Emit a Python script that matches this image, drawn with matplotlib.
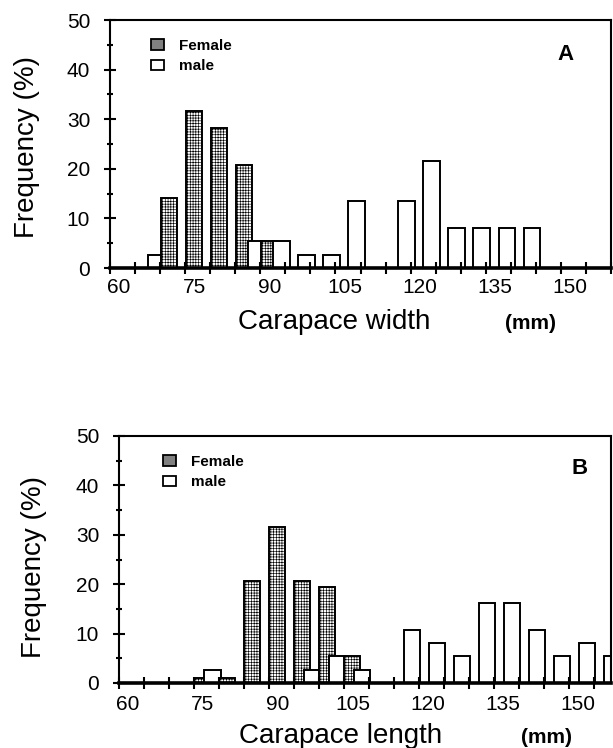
import matplotlib
matplotlib.use("Agg")
import matplotlib.pyplot as plt
import matplotlib.transforms as mtransforms
from matplotlib.patches import Patch
from matplotlib.ticker import MultipleLocator, FixedLocator

plt.rcParams['font.family'] = ['Liberation Sans', 'DejaVu Sans']
plt.rcParams['hatch.linewidth'] = 0.45

# --- data (frequency in %) ---
# A: carapace width
bins_a = [70, 75, 80, 85, 90, 95, 100, 105, 110, 115, 120, 125, 130, 135, 140, 145]
female_a = [14.2, 31.6, 28.3, 20.8, 5.4, 0, 0, 0, 0, 0, 0, 0, 0, 0, 0, 0]
male_a = [2.7, 0, 0, 0, 5.4, 5.4, 2.7, 2.7, 13.5, 0, 13.5, 21.6, 8.1, 8.1, 8.1, 8.1]

# B: carapace length
bins_b = [75, 80, 85, 90, 95, 100, 105, 110, 115, 120, 125, 130, 135, 140, 145, 150, 155, 160]
female_b = [1.0, 1.0, 20.7, 31.5, 20.7, 19.5, 5.4, 0, 0, 0, 0, 0, 0, 0, 0, 0, 0, 0]
male_b = [0, 2.7, 0, 0, 0, 2.7, 5.4, 2.7, 0, 10.8, 8.1, 5.4, 16.2, 16.2, 10.8, 5.4, 8.1, 5.4]

W, H = 613, 748
fig = plt.figure(figsize=(W / 100, H / 100), dpi=100)


def add_px_axes(l, t, r, b):
    return fig.add_axes([l / W, 1 - b / H, (r - l) / W, (b - t) / H])


def draw_panel(ax, bins, female, male, off_m, off_f, xmax, letter, letter_xy,
               leg_xy, xpad):
    bw = 3.3
    xm = [b + off_m for b in bins]
    xf = [b + off_f for b in bins]
    mbars = ax.bar(xm, male, bw, color='white', edgecolor='black', linewidth=1.4)
    fbars = ax.bar(xf, female, bw, color='white', edgecolor='black', linewidth=1.4,
                   hatch='++++++')
    # each class: male first, then female, next class over it
    for i, (m, f) in enumerate(zip(mbars, fbars)):
        m.set_zorder(2 + 0.02 * i)
        f.set_zorder(2.01 + 0.02 * i)

    ax.set_xlim(60, xmax)
    ax.set_ylim(0, 50)
    ax.set_axisbelow(False)
    ax.xaxis.set_major_locator(FixedLocator([60, 75, 90, 105, 120, 135, 150]))
    ax.xaxis.set_minor_locator(MultipleLocator(5))
    ax.yaxis.set_major_locator(MultipleLocator(10))
    ax.yaxis.set_minor_locator(MultipleLocator(5))
    ax.tick_params(which='both', direction='inout', width=1.5, top=False, right=False,
                   labelsize=15)
    ax.tick_params(axis='y', which='major', length=8.5, pad=10)
    ax.tick_params(axis='y', which='minor', length=4)
    ax.tick_params(axis='x', which='both', length=8, pad=xpad)
    for s in ['left', 'top', 'right']:
        ax.spines[s].set_linewidth(1.5)
    ax.spines['bottom'].set_linewidth(2.6)
    for s in ax.spines.values():
        s.set_zorder(3)

    shift = mtransforms.ScaledTranslation(9 / 100, 0, fig.dpi_scale_trans)
    for lab in ax.get_xticklabels():
        lab.set_transform(lab.get_transform() + shift)

    ax.text(letter_xy[0], letter_xy[1], letter, transform=ax.transAxes,
            fontsize=16, fontweight='bold', ha='center', va='center')

    handles = [Patch(facecolor='#808080', edgecolor='black', linewidth=1.3, label='Female'),
               Patch(facecolor='white', edgecolor='black', linewidth=1.3, label='male')]
    ax.legend(handles=handles, loc='upper left', bbox_to_anchor=leg_xy, frameon=False,
              borderpad=0, borderaxespad=0, handlelength=0.85, handleheight=0.7,
              handletextpad=1.0, labelspacing=0.45,
              prop={'weight': 'bold', 'size': 11})


axA = add_px_axes(110, 20, 611, 268)
axB = add_px_axes(119, 436, 611, 683)

draw_panel(axA, bins_a, female_a, male_a, -0.8, 1.75, 160, 'A', (0.91, 0.861),
           (0.081, 0.925), 3)
draw_panel(axB, bins_b, female_b, male_b, -1.3, 1.65, 158.5, 'B', (0.936, 0.868),
           (0.089, 0.925), 5)

# axis titles
fig.text(27.5 / W, 1 - 147.5 / H, 'Frequency (%)', rotation=90, fontsize=20,
         ha='center', va='center')
fig.text(34 / W, 1 - 567.5 / H, 'Frequency (%)', rotation=90, fontsize=20,
         ha='center', va='center')
fig.text(334 / W, 1 - 329 / H, 'Carapace width', fontsize=20, ha='center', va='baseline')
fig.text(530 / W, 1 - 329 / H, '(mm)', fontsize=15, fontweight='bold',
         ha='center', va='baseline')
fig.text(341 / W, 1 - 743 / H, 'Carapace length', fontsize=20, ha='center', va='baseline')
fig.text(547 / W, 1 - 743 / H, '(mm)', fontsize=15, fontweight='bold',
         ha='center', va='baseline')

fig.savefig('out.png', dpi=100)
